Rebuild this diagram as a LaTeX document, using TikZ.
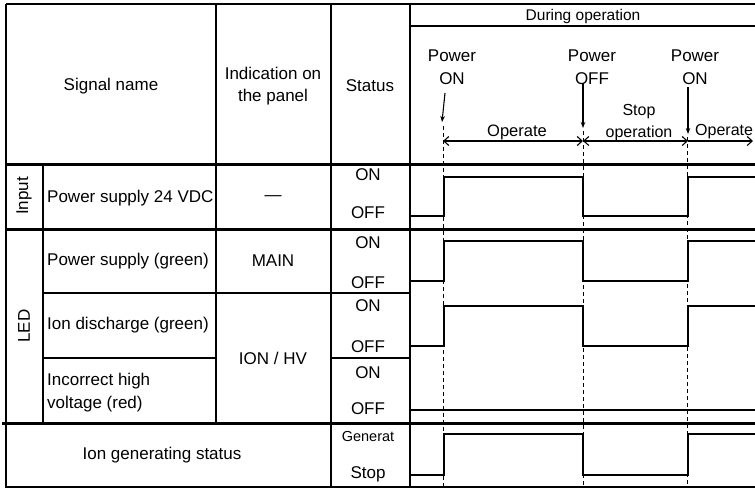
\documentclass[tikz,border=0pt]{standalone}
\usepackage{fontspec}
\setmainfont{Liberation Sans}
\usetikzlibrary{arrows.meta}
\begin{document}
\begin{tikzpicture}[x=1pt,y=-1pt,
  gridline/.style={line width=1.4pt},
  heavyrule/.style={line width=3pt},
  wave/.style={line width=2.6pt,line join=miter},
  dashline/.style={line width=0.9pt,dash pattern=on 4pt off 3pt},
  txt/.style={font=\fontsize{17}{22.5}\selectfont,inner sep=0pt},
  smalltxt/.style={font=\fontsize{14.5}{17}\selectfont,inner sep=0pt},
  dimarrow/.style={line width=1.1pt,{Straight Barb[length=5pt,width=9pt]}-{Straight Barb[length=5pt,width=9pt]}},
  dimarrowend/.style={line width=1.1pt,-{Straight Barb[length=5pt,width=9pt]}},
  evarrow/.style={line width=1.1pt,-{Stealth[length=6pt,width=4.5pt]}}]
\useasboundingbox (0,0) rectangle (755,488);
\fill[white] (0,0) rectangle (755,488);

% ---- table grid ----
\draw[gridline] (6,4) -- (755,4);
\draw[gridline] (6,4) -- (6,487) -- (755,487);
\draw[gridline] (216,4) -- (216,423);
\draw[gridline] (331,4) -- (331,487);
\draw[gridline] (410,4) -- (410,487);
\draw[gridline] (43,164) -- (43,423);
\draw[gridline] (410,26) -- (755,26);
\draw[gridline] (43,293) -- (410,293);
\draw[gridline] (43,358) -- (216,358);
\draw[gridline] (331,358) -- (410,358);
\draw[heavyrule] (6,164) -- (755,164);
\draw[heavyrule] (6,229) -- (755,229);
\draw[heavyrule] (2,423) -- (755,423);

% ---- header texts ----
\node[txt] (sig) at (111,86) {Signal name};
\node[txt,align=center] (ind) at (273,86) {Indication on\\the panel};
\node[txt] (stat) at (370,86) {Status};
\node[txt,font=\fontsize{15.5}{18}\selectfont] (during) at (583,16) {During operation};

\node[txt,align=center] (p1) at (452,67) {Power\\ON};
\node[txt,align=center] (p2) at (592,67) {Power\\OFF};
\node[txt,align=center] (p3) at (695,67) {Power\\ON};
\node[txt,font=\fontsize{16.5}{20}\selectfont] (op1) at (517,132) {Operate};
\node[txt,align=center,font=\fontsize{16}{22}\selectfont] (stop) at (639,123) {Stop\\operation};
\node[txt,anchor=west,font=\fontsize{16}{20}\selectfont] (op2) at (695,132) {Operate};

% ---- event coordinates ----
\coordinate (a1s) at (445,93);
\coordinate (a1e) at (442,122);
\coordinate (a2s) at (583,83);
\coordinate (a2e) at (583,128);
\coordinate (a3s) at (688,87);
\coordinate (a3e) at (688,134);
\coordinate (d1) at (443,141);
\coordinate (d2) at (583,141);
\coordinate (d3) at (688,141);
\coordinate (d4) at (753,141);

\draw[evarrow] (a1s) -- (a1e);
\draw[evarrow] (a2s) -- (a2e);
\draw[evarrow] (a3s) -- (a3e);
\draw[dimarrow] (d1) -- (d2);
\draw[dimarrow] (d2) -- (d3);
\draw[dimarrowend] (d3) -- (d4);

\draw[dashline] (443,126) -- (443,487);
\draw[dashline] (583,131) -- (583,487);
\draw[dashline] (687,137) -- (687,487);

% ---- row labels ----
\node[txt,rotate=90] (inp) at (24,196) {Input};
\node[txt,rotate=90] (led) at (24,326) {LED};
\node[txt,anchor=west] (r1) at (47,198) {Power supply 24 VDC};
\node[txt] (r1i) at (273,198) {—};
\node[txt,anchor=west] (r2) at (47,261) {Power supply (green)};
\node[txt] (r2i) at (273,261) {MAIN};
\node[txt,anchor=west] (r3) at (47,325) {Ion discharge (green)};
\node[txt] (r3i) at (273,358) {ION / HV};
\node[txt,anchor=west,align=left] (r4) at (47,392.5) {Incorrect high\\voltage (red)};
\node[txt] (r5) at (162,455) {Ion generating status};

% ---- status column ----
\node[txt] (s1a) at (368,175) {ON};
\node[txt] (s1b) at (368,213) {OFF};
\node[txt] (s2a) at (368,243) {ON};
\node[txt] (s2b) at (368,283) {OFF};
\node[txt] (s3a) at (368,306) {ON};
\node[txt] (s3b) at (368,347) {OFF};
\node[txt] (s4a) at (368,373) {ON};
\node[txt] (s4b) at (368,409) {OFF};
\node[smalltxt] (s5a) at (368,436) {Generat};
\node[txt] (s5b) at (368,474) {Stop};

% ---- waveforms ----
\draw[wave] (411,216) -- (444,216) -- (444,177) -- (583,177) -- (583,216) -- (688,216) -- (688,177) -- (756,177);
\draw[wave] (411,281) -- (444,281) -- (444,241) -- (583,241) -- (583,281) -- (688,281) -- (688,241) -- (756,241);
\draw[wave] (411,346) -- (444,346) -- (444,306) -- (583,306) -- (583,346) -- (688,346) -- (688,306) -- (756,306);
\draw[wave] (411,410) -- (756,410);
\draw[wave] (411,475) -- (444,475) -- (444,434) -- (583,434) -- (583,475) -- (688,475) -- (688,434) -- (756,434);
\end{tikzpicture}
\end{document}
